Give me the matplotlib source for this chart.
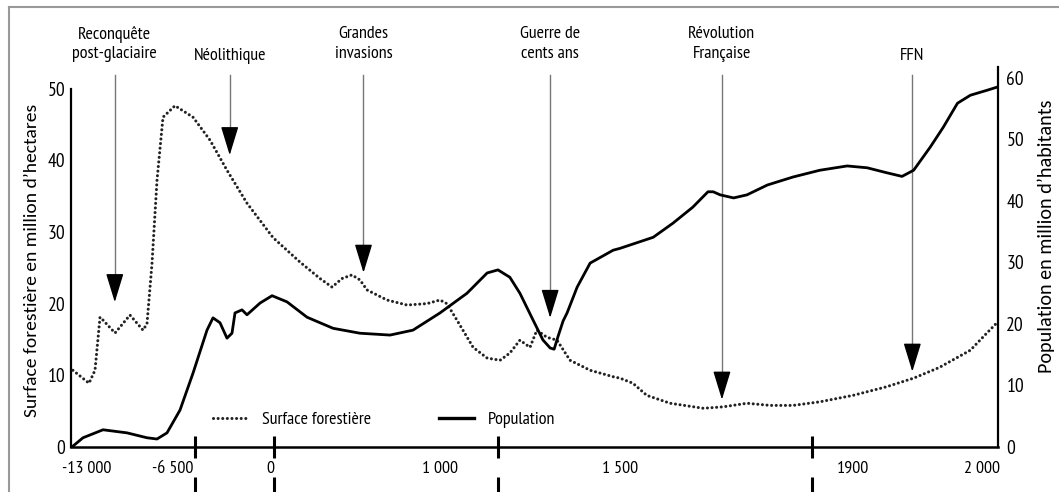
import numpy as np
import matplotlib
matplotlib.use('Agg')
import matplotlib.pyplot as plt
from matplotlib import font_manager
from matplotlib.lines import Line2D
from matplotlib.ticker import FixedLocator, NullFormatter

# forest surface (million ha, left axis)
forest_years = [-14060, -12849, -12395, -12017, -11790, -10883, -9750, -8767, -8465,
                -8087, -7709, -7256, -6366, -5160, -4021, -2882, -1541, 18, 176, 294,
                365, 424, 482, 529, 571, 688, 806, 924, 1000, 1019, 1047, 1092, 1131,
                1167, 1194, 1222, 1250, 1269, 1297, 1325, 1361, 1417, 1481, 1500, 1522,
                1546, 1586, 1643, 1677, 1718, 1758, 1797, 1843, 1900, 1926, 1947, 1967,
                1991, 2004, 2012]
forest_values = [10.7, 8.9, 10.7, 18.1, 17.7, 15.9, 18.4, 16.3, 17.2,
                 25.6, 37.2, 46.0, 47.6, 46.0, 42.8, 38.6, 34.0, 29.2, 25.8, 23.5,
                 22.3, 23.5, 24.0, 23.3, 21.9, 20.5, 19.8, 20.0, 20.5, 20.0, 17.7, 13.9, 12.4,
                 12.1, 13.1, 14.9, 13.9, 16.3, 15.3, 14.9, 12.1, 10.7, 9.8, 9.6, 8.9,
                 7.2, 6.1, 5.4, 5.6, 6.1, 5.8, 5.8, 6.3, 7.2, 8.4, 9.6, 11.1,
                 13.5, 15.9, 17.3]

# population (million inhabitants, right axis)
pop_years = [-14134, -13302, -11790, -9977, -8465, -7709, -6953, -6031, -5160, -4222,
             -3820, -3350, -2882, -2547, -2345, -1876, -1541, -670, 12, 100, 218, 371,
             529, 706, 841, 1000, 1075, 1131, 1161, 1194, 1222, 1258, 1286, 1306, 1317,
             1328, 1342, 1353, 1381, 1417, 1481, 1500, 1557, 1591, 1625, 1651, 1660,
             1672, 1695, 1718, 1753, 1797, 1843, 1890, 1911, 1926, 1938, 1947, 1960,
             1970, 1981, 1991, 2004, 2012]
pop_values = [0.0, 1.5, 2.8, 2.3, 1.5, 1.3, 2.3, 6.0, 12.0, 19.0,
              21.0, 20.2, 17.7, 18.5, 21.8, 22.3, 21.5, 23.4, 24.6, 23.6, 21.1, 19.3,
              18.5, 18.2, 19.0, 21.8, 25.0, 28.3, 28.8, 27.6, 25.0, 20.7, 17.4, 16.1, 15.9,
              18.0, 20.5, 21.8, 26.0, 29.9, 32.0, 32.3, 34.1, 36.4, 39.0, 41.5, 41.5,
              41.0, 40.5, 41.0, 42.6, 43.9, 45.0, 45.7, 45.4, 44.6, 44.0, 45.0, 48.8,
              52.0, 55.9, 57.2, 58.0, 58.5]

year_ticks = [-13000, -6500, 0, 1000, 1500, 1900, 2000]
year_labels = ['-13 000', '-6 500', '0', '1 000', '1 500', '1900', '2 000']
break_years = [-5000, 25, 1160, 1830]

events = ['Reconquête\npost-glaciaire', 'Néolithique', 'Grandes\ninvasions',
          'Guerre de\ncents ans', 'Révolution\nFrançaise', 'FFN']
event_years = [-10900, -2700, 550, 1306, 1675, 1946]
event_tips = [20.2, 40.7, 24.3, 18.0, 6.6, 10.5]

# the time axis is stretched piecewise (schematic)
scale_years = [-14200, -13000, -6500, 0, 1000, 1500, 1900, 2000, 2013]
scale_pos = [71, 87, 173, 270, 440, 620, 853, 982, 998]

def fwd(x):
    return np.interp(x, scale_years, scale_pos)

def inv(p):
    return np.interp(p, scale_pos, scale_years)

def pick(cands):
    names = {f.name for f in font_manager.fontManager.ttflist}
    for c in cands:
        if c in names:
            return c
    return 'DejaVu Sans'

narrow = pick(['PT Sans Narrow', 'Fira Sans Condensed', 'Roboto Condensed', 'Liberation Sans'])
wide = pick(['Carlito', 'Open Sans', 'Liberation Sans'])
plt.rcParams['font.family'] = [narrow, 'DejaVu Sans']

fig = plt.figure(figsize=(10.59, 4.92), dpi=100)
ax = fig.add_axes([71/1059, 45/492, 927/1059, 380/492])
ax2 = ax.twinx()

ax.set_xscale('function', functions=(fwd, inv))
ax.set_xlim(-14200, 2013)
ax.set_ylim(0, 380/7.17)
ax2.set_ylim(0, 380/6.15)

dotted = (0, (0.01, 1.5))
ax.plot(forest_years, forest_values, color='#222222', lw=2.2, linestyle=dotted,
        dash_capstyle='round', zorder=3)
ax2.plot(pop_years, pop_values, color='black', lw=2.0, solid_joinstyle='round', zorder=3)

# spines
ax.spines['top'].set_visible(False)
ax2.spines['top'].set_visible(False)
ax2.spines['left'].set_visible(False)
ax2.spines['bottom'].set_visible(False)
ax.spines['right'].set_visible(False)
ax.spines['left'].set_bounds(0, 50)
ax.spines['left'].set_linewidth(1.6)
ax.spines['bottom'].set_linewidth(1.8)
ax2.spines['right'].set_linewidth(1.6)

# ticks
ax.set_yticks([0, 10, 20, 30, 40, 50])
ax.tick_params(axis='y', length=0, pad=4, labelsize=14)
ax2.set_yticks([0, 10, 20, 30, 40, 50, 60])
ax2.tick_params(axis='y', length=0, pad=6, labelsize=14)

ax.xaxis.set_major_locator(FixedLocator(year_ticks))
ax.set_xticklabels(year_labels)
ax.xaxis.set_minor_locator(FixedLocator(break_years))
ax.xaxis.set_minor_formatter(NullFormatter())
ax.tick_params(axis='x', which='major', length=0, pad=10, labelsize=13)
ax.tick_params(axis='x', which='minor', length=16, width=2.2, direction='inout', color='black')
for b in break_years:
    ax.plot([b, b], [-0.079, -0.13], transform=ax.get_xaxis_transform(),
            color='black', lw=2.2, clip_on=False, solid_capstyle='butt')

ax.set_ylabel('Surface forestière en million d’hectares', family=wide, fontsize=14)
ax.yaxis.label.set_verticalalignment('center')
ax.yaxis.set_label_coords((32 - 71) / 927, 0.49)
ax2.set_ylabel('Population en million d’habitants', family=wide, fontsize=14.5)
ax2.yaxis.label.set_verticalalignment('center')
ax2.yaxis.set_label_coords((1046 - 71) / 927, 0.555)

# event arrows
top = (447 - 75) / 7.17
head = 25 / 7.17
for name, yr, tip in zip(events, event_years, event_tips):
    ax.plot([yr, yr], [top, tip + head], color='#777777', lw=1.0, zorder=2, clip_on=False)
    ax.annotate('', xy=(yr, tip), xytext=(yr, tip + head),
                arrowprops=dict(arrowstyle='-|>,head_length=1.8,head_width=0.55',
                                color='black', lw=1.0, shrinkA=0, shrinkB=0,
                                mutation_scale=10), zorder=4)
    ty = 1.06 if '\n' in name else 1.029
    ax.text(yr, ty, name, transform=ax.get_xaxis_transform(), ha='center', va='center',
            fontsize=13, linespacing=1.3)

handles = [Line2D([], [], color='#222222', lw=2.2, linestyle=dotted, dash_capstyle='round'),
           Line2D([], [], color='black', lw=2.4)]
ax.legend(handles, ['Surface forestière', 'Population'], ncol=2, loc='center left',
          bbox_to_anchor=(0.153, 0.071), frameon=False, fontsize=13, handlelength=1.9,
          handletextpad=0.8, columnspacing=3.8, borderpad=0, borderaxespad=0)

# outer frame of the picture
fig.add_artist(Line2D([9/1059, 9/1059], [0, 1 - 7/492], color='#999999', lw=1.5))
fig.add_artist(Line2D([9/1059, 1], [1 - 7/492, 1 - 7/492], color='#999999', lw=1.5))

plt.savefig('out.png', dpi=100)
